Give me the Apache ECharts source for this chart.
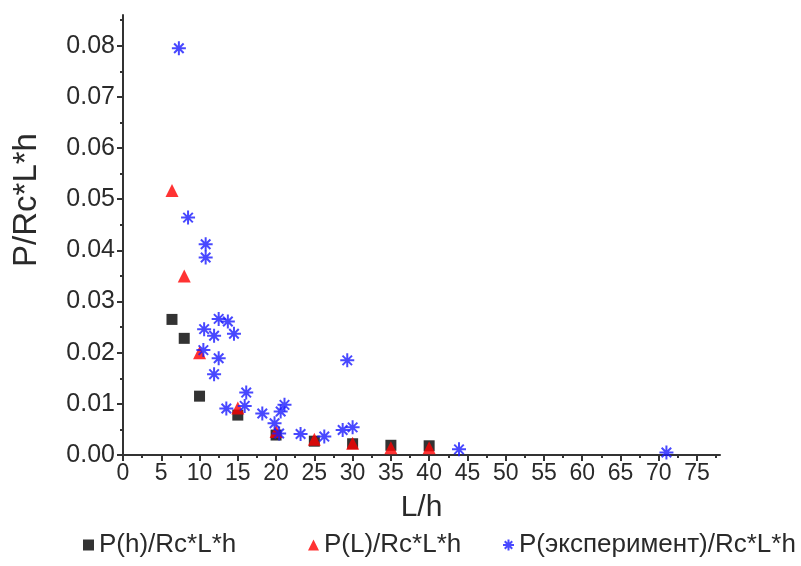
<!DOCTYPE html>
<html>
<head>
<meta charset="utf-8">
<script src="https://cdn.jsdelivr.net/npm/echarts@6/dist/echarts.min.js"></script>
<style>
  html, body { margin: 0; padding: 0; background: #fff; }
  #chart { width: 801px; height: 566px; }
</style>
</head>
<body>
<div id="chart"></div>
<script>
// L/h values and normalised loads for the two model curves
const lhModel = [6.4, 8, 10, 15, 20, 25, 30, 35, 40];
const pH = [0.0265, 0.0228, 0.0115, 0.0078, 0.0039, 0.0027, 0.0022, 0.0019, 0.0018];
const pL = [0.0517, 0.0350, 0.0200, 0.0092, 0.0046, 0.0031, 0.0023, 0.0014, 0.0014];

// experimental points
const lhExp = [7.3, 8.5, 10.8, 10.8, 10.6, 11.9, 12.5, 13.7, 14.5, 10.5, 12.5, 11.9, 16.1, 15.9,
  13.5, 18.2, 21.1, 20.6, 19.8, 20.4, 23.2, 26.3, 28.7, 30.0, 29.3, 43.9, 71.0];
const pExp = [0.0795, 0.0464, 0.0412, 0.0386, 0.0246, 0.0233, 0.0266, 0.0261, 0.0237, 0.0205,
  0.0189, 0.0158, 0.0122, 0.0096, 0.0091, 0.0081, 0.0098, 0.0085, 0.0062, 0.0042, 0.0041,
  0.0036, 0.0049, 0.0054, 0.0185, 0.0011, 0.0005];

// axis tick labels
const xTicks = [0, 5, 10, 15, 20, 25, 30, 35, 40, 45, 50, 55, 60, 65, 70, 75];
const yTicks = [0, 0.01, 0.02, 0.03, 0.04, 0.05, 0.06, 0.07, 0.08];

const seriesNames = ['P(h)/Rc*L*h', 'P(L)/Rc*L*h', 'P(эксперимент)/Rc*L*h'];

const zip = (xs, ys) => xs.map((x, i) => [x, ys[i]]);

const FONT = '"Liberation Sans", Arial, sans-serif';
const AXIS_COLOR = '#333';
const TEXT_COLOR = '#2a2a2a';
const asterisk = 'path://M5,0L5,10M0,5L10,5M1.6,1.6L8.4,8.4M8.4,1.6L1.6,8.4';

// one legend block per series so each entry sits at its own spot
const legendLeft = [78, 303, 497];
const legends = seriesNames.map((name, i) => ({
  data: [name],
  left: legendLeft[i], bottom: 3,
  itemWidth: 11, itemHeight: 11,
  textStyle: { fontFamily: FONT, fontSize: 26, color: TEXT_COLOR }
}));

const chart = echarts.init(document.getElementById('chart'), null, { renderer: 'canvas' });

chart.setOption({
  animation: false,
  backgroundColor: '#fff',
  grid: { left: 123, right: 81, top: 15, bottom: 111, containLabel: false, outerBoundsMode: 'none' },
  xAxis: {
    type: 'value',
    min: 0, max: 78, interval: 5,
    name: 'L/h', nameLocation: 'middle', nameGap: 38,
    nameTextStyle: { fontFamily: FONT, fontSize: 30, color: TEXT_COLOR },
    axisLine: { show: true, lineStyle: { color: AXIS_COLOR, width: 2 } },
    axisTick: { show: true, inside: false, length: 6, customValues: xTicks, lineStyle: { color: AXIS_COLOR, width: 2 } },
    minorTick: { show: true, splitNumber: 2, length: 3, lineStyle: { color: AXIS_COLOR, width: 2 } },
    axisLabel: { customValues: xTicks, margin: 7, fontFamily: FONT, fontSize: 23, color: TEXT_COLOR },
    splitLine: { show: false }
  },
  yAxis: {
    type: 'value',
    min: 0, max: 0.086, interval: 0.01,
    name: 'P/Rc*L*h', nameLocation: 'middle', nameGap: 80,
    nameTextStyle: { fontFamily: FONT, fontSize: 33, color: TEXT_COLOR, padding: [0, 0, 0, 70] },
    axisLine: { show: true, lineStyle: { color: AXIS_COLOR, width: 2 } },
    axisTick: { show: true, inside: false, length: 6, customValues: yTicks, lineStyle: { color: AXIS_COLOR, width: 2 } },
    minorTick: { show: true, splitNumber: 2, length: 3, lineStyle: { color: AXIS_COLOR, width: 2 } },
    axisLabel: {
      customValues: yTicks, margin: 8, fontFamily: FONT, fontSize: 25, color: TEXT_COLOR,
      formatter: v => v.toFixed(2)
    },
    splitLine: { show: false }
  },
  legend: legends,
  series: [
    {
      name: seriesNames[0], type: 'scatter', symbol: 'rect', symbolSize: 11,
      itemStyle: { color: '#000' },
      data: zip(lhModel, pH)
    },
    {
      name: seriesNames[1], type: 'scatter', symbol: 'triangle', symbolSize: 13,
      itemStyle: { color: '#ff0000' },
      data: zip(lhModel, pL)
    },
    {
      name: seriesNames[2], type: 'scatter', symbol: asterisk, symbolSize: 14,
      itemStyle: { color: '#1a1aff', borderColor: '#1a1aff', borderWidth: 2 },
      data: zip(lhExp, pExp)
    }
  ]
});
</script>
</body>
</html>
